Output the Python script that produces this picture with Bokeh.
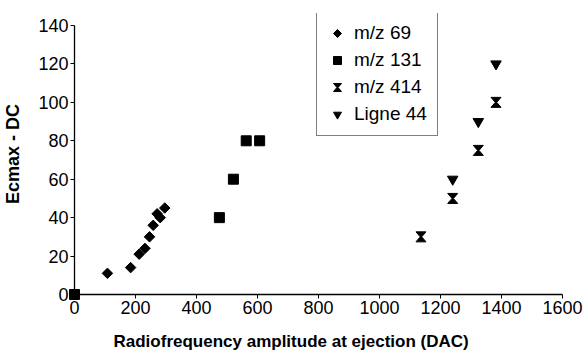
from bokeh.plotting import figure
from bokeh.models import (Range1d, SingleIntervalTicker, Legend, LegendItem,
                          Title, CustomJS)
from bokeh.embed import file_html
from bokeh.resources import INLINE

# ---- data ----
x_69 = [108, 184, 212, 231, 246, 258, 271, 281, 296]
y_69 = [11, 14, 21, 24, 30, 36, 42, 40, 45]

x_131 = [0, 475, 521, 563, 607]
y_131 = [0, 40, 60, 80, 80]

x_414 = [1136, 1240, 1324, 1382]
y_414 = [30, 50, 75, 100]

x_l44 = [1240, 1324, 1382]
y_l44 = [60, 90, 120]

labels = ["m/z 69", "m/z 131", "m/z 414", "Ligne 44"]
x_label = "Radiofrequency amplitude at ejection (DAC)"
y_label = "Ecmax - DC"

FONT = "Liberation Sans"

# y axis drawn over 0..140; a little headroom above so the legend can rise above 140
p = figure(width=588, height=354, output_backend="svg", toolbar_location=None,
           x_range=Range1d(0, 1600), y_range=Range1d(0, 146.25),
           min_border_left=73, min_border_right=26, min_border_top=13,
           min_border_bottom=60)
p.outline_line_color = None
p.grid.visible = False
p.background_fill_color = "white"
p.border_fill_color = "white"

p.xaxis.ticker = SingleIntervalTicker(interval=200)
p.yaxis.ticker = SingleIntervalTicker(interval=20)
p.yaxis.bounds = (0, 140)
for ax in (p.xaxis, p.yaxis):
    ax.axis_line_color = "black"
    ax.axis_line_width = 1.3
    ax.major_tick_line_color = "black"
    ax.major_tick_line_width = 1
    ax.major_tick_out = 4
    ax.major_tick_in = 0
    ax.minor_tick_line_color = None
    ax.major_label_text_font = FONT
    ax.major_label_text_font_size = "18px"
    ax.major_label_text_color = "black"
p.xaxis.major_label_standoff = 2
p.yaxis.major_label_standoff = 2

p.yaxis.axis_label = y_label
p.yaxis.axis_label_text_font = FONT
p.yaxis.axis_label_text_font_style = "bold"
p.yaxis.axis_label_text_font_size = "18px"
p.yaxis.axis_label_text_color = "black"
p.yaxis.axis_label_standoff = 12

# small blank spacer between the x axis and its label
spacer = Title(text=" ", text_font_size="7px", standoff=0)
p.add_layout(spacer, "below")
xt = Title(text=x_label, align="left", offset=39,
           text_font=FONT, text_font_style="bold", text_font_size="17px",
           text_color="black", standoff=8)
p.add_layout(xt, "below")

paint_tail = """
  if (v.fill.doit) { v.fill.set_vectorize(ctx, i); ctx.fill() }
  if (v.line.doit) { v.line.set_vectorize(ctx, i); ctx.stroke() }
}
"""

diamond = CustomJS(code="""
export default (args, obj, data) => {
  const ctx = data.ctx, r = data.r, i = data.i, v = data.visuals
  ctx.moveTo(0, -r); ctx.lineTo(r, 0); ctx.lineTo(0, r); ctx.lineTo(-r, 0)
  ctx.closePath()
""" + paint_tail)

hourglass = CustomJS(code="""
export default (args, obj, data) => {
  const ctx = data.ctx, r = data.r, i = data.i, v = data.visuals
  const w = 0.14
  ctx.moveTo(-r, -r); ctx.lineTo(r, -r); ctx.lineTo(w*r, 0)
  ctx.lineTo(r, r); ctx.lineTo(-r, r); ctx.lineTo(-w*r, 0)
  ctx.closePath()
""" + paint_tail)

r69 = p.scatter(x_69, y_69, marker="@diamond", size=10.5,
                defs={"@diamond": diamond},
                fill_color="black", line_color="black")

r131 = p.scatter(x_131, y_131, marker="square", size=10,
                 fill_color="black", line_color="black", level="overlay")

r414 = p.scatter(x_414, y_414, marker="@hourglass", size=10,
                 defs={"@hourglass": hourglass},
                 fill_color="black", line_color="black")

r44 = p.scatter(x_l44, y_l44, marker="inverted_triangle", size=10.5,
                fill_color="black", line_color="black")

legend = Legend(items=[LegendItem(label=labels[0], renderers=[r69]),
                       LegendItem(label=labels[1], renderers=[r131]),
                       LegendItem(label=labels[2], renderers=[r414]),
                       LegendItem(label=labels[3], renderers=[r44])],
                location=(242, 158))
legend.label_text_font = FONT
legend.label_text_font_size = "19px"
legend.label_text_color = "black"
legend.label_height = 22
legend.glyph_height = 22
legend.glyph_width = 20
legend.label_standoff = 7
legend.spacing = 5
legend.padding = 10
legend.margin = 0
legend.border_line_color = "black"
legend.border_line_width = 1
legend.background_fill_color = "white"
legend.background_fill_alpha = 1
p.add_layout(legend)

open("out.html", "w").write(file_html(p, INLINE))
